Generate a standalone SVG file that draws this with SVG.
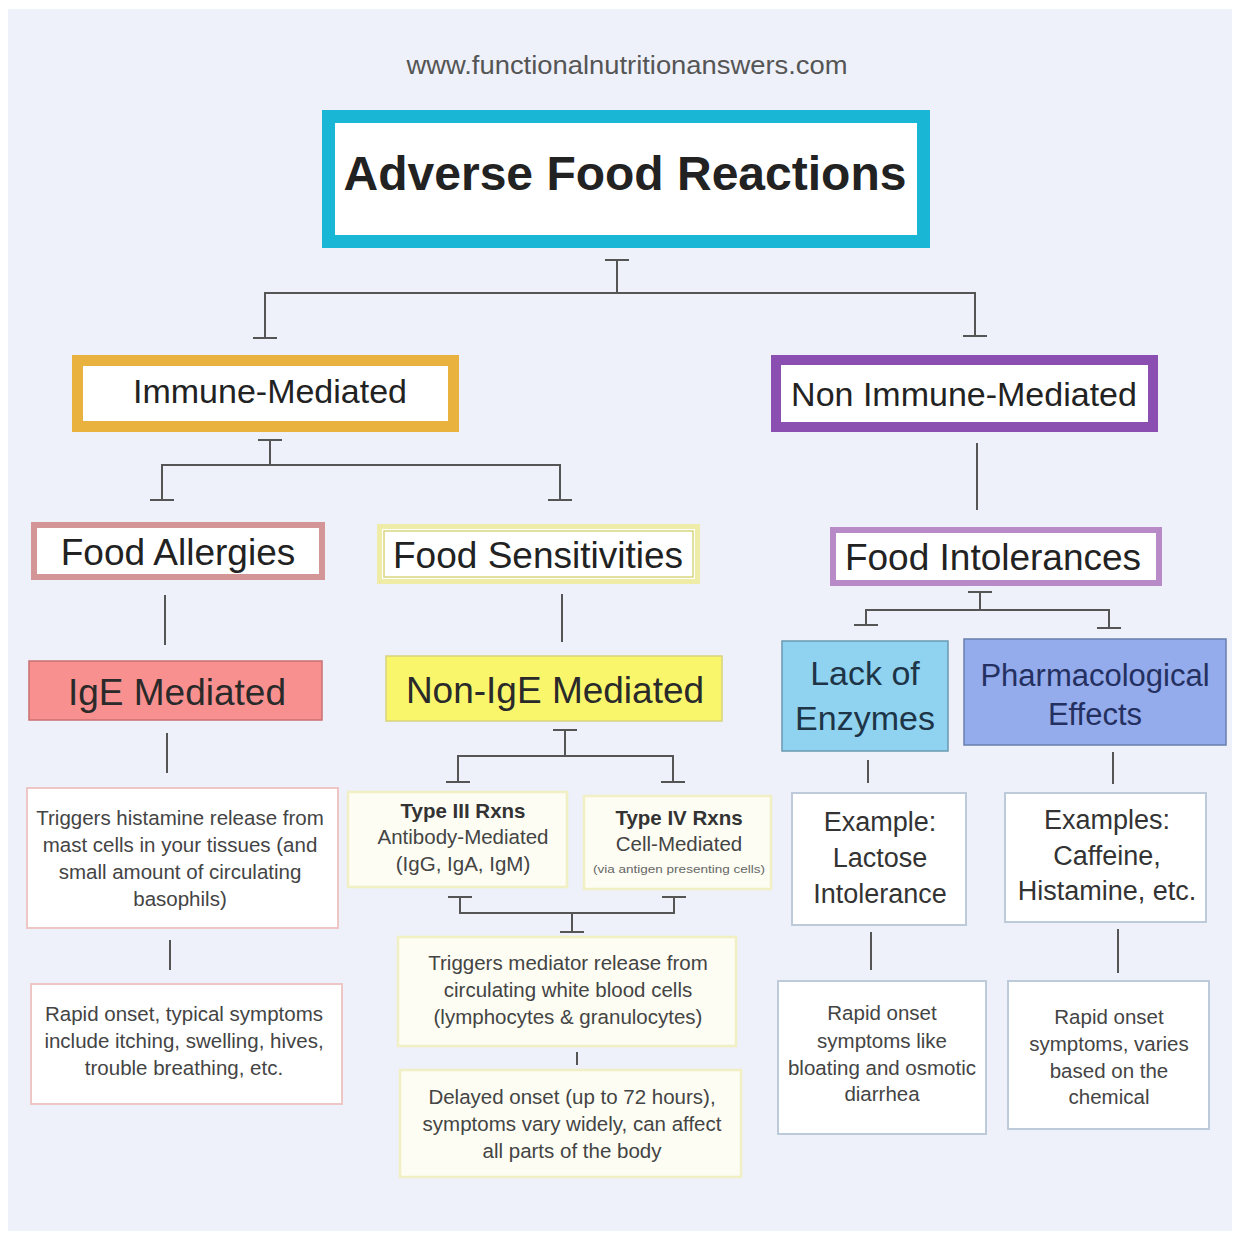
<svg xmlns="http://www.w3.org/2000/svg" width="1239" height="1238" viewBox="0 0 1239 1238">
<style>
text{font-family:"Liberation Sans",Arial,sans-serif;text-anchor:middle}
.big{fill:#222}
.sm{font-size:20.5px;fill:#444}
.ex{font-size:27px;fill:#333}
.conn{fill:none;stroke:#555;stroke-width:2}
.pbox{fill:#fff;stroke:#efc6c6;stroke-width:2}
.ybox{fill:#fdfdf3;stroke:#f1efc4;stroke-width:2.5}
.bbox{fill:#fff;stroke:#bccad9;stroke-width:2}
</style>
<defs>
<marker id="bar" markerUnits="userSpaceOnUse" markerWidth="4" markerHeight="26" refX="2" refY="13" orient="auto">
<path d="M2,1 V25" stroke="#555" stroke-width="2"/>
</marker>
</defs>
<rect x="0" y="0" width="1239" height="1238" fill="#fff"/>
<rect x="8" y="9" width="1224" height="1222" fill="#eef1f9"/>
<text x="627" y="74" style="font-size:25px;fill:#555" textLength="441" lengthAdjust="spacingAndGlyphs">www.functionalnutritionanswers.com</text>

<g id="connectors">
<path class="conn" d="M617,260 V293 H265 V338" marker-start="url(#bar)" marker-end="url(#bar)"/>
<path class="conn" d="M617,293 H975 V336" marker-end="url(#bar)"/>
<path class="conn" d="M270,440 V465 H162 V500" marker-start="url(#bar)" marker-end="url(#bar)"/>
<path class="conn" d="M270,465 H560 V500" marker-end="url(#bar)"/>
<path class="conn" d="M977,443 V510"/>
<path class="conn" d="M165,595 V645"/>
<path class="conn" d="M562,594 V642"/>
<path class="conn" d="M980,592 V610 H866 V625" marker-start="url(#bar)" marker-end="url(#bar)"/>
<path class="conn" d="M980,610 H1109 V628" marker-end="url(#bar)"/>
<path class="conn" d="M167,733 V773"/>
<path class="conn" d="M565,730 V756 H458 V782" marker-start="url(#bar)" marker-end="url(#bar)"/>
<path class="conn" d="M565,756 H673 V782" marker-end="url(#bar)"/>
<path class="conn" d="M868,760 V783"/>
<path class="conn" d="M1113,752 V784"/>
<path class="conn" d="M460,897 V913 H572 V932" marker-start="url(#bar)" marker-end="url(#bar)"/>
<path class="conn" d="M674,897 V913 H572" marker-start="url(#bar)"/>
<path class="conn" d="M577,1052 V1065"/>
<path class="conn" d="M170,940 V970"/>
<path class="conn" d="M871,932 V970"/>
<path class="conn" d="M1118,929 V973"/>
</g>

<g id="title">
<rect x="328.5" y="116.5" width="595" height="125" fill="#fff" stroke="#19b6d6" stroke-width="13"/>
<text class="big" x="625" y="190" style="font-size:48px;font-weight:bold">Adverse Food Reactions</text>
</g>
<g id="immune">
<rect x="77.5" y="360.5" width="376" height="66" fill="#fff" stroke="#e9b13e" stroke-width="11"/>
<text class="big" x="270" y="403" style="font-size:34px">Immune-Mediated</text>
</g>
<g id="nonimmune">
<rect x="776" y="360" width="377" height="67" fill="#fff" stroke="#8b4fb1" stroke-width="10"/>
<text class="big" x="964" y="406" style="font-size:34px">Non Immune-Mediated</text>
</g>
<g id="allergies">
<rect x="34" y="525" width="288" height="52" fill="#fff" stroke="#d39595" stroke-width="6"/>
<text class="big" x="178" y="565" style="font-size:37px">Food Allergies</text>
</g>
<g id="sensitivities">
<rect x="379.5" y="526.5" width="318" height="55" fill="#fff" stroke="#eeeca6" stroke-width="5"/>
<rect x="384" y="531" width="309" height="46" fill="none" stroke="#d9d67c" stroke-width="1.5"/>
<text class="big" x="538" y="568" style="font-size:37px">Food Sensitivities</text>
</g>
<g id="intolerances">
<rect x="833" y="530" width="326" height="53" fill="#fff" stroke="#b98ac8" stroke-width="6"/>
<text class="big" x="993" y="570" style="font-size:37px">Food Intolerances</text>
</g>
<g id="ige">
<rect x="29" y="661" width="293" height="59" fill="#f8908f" stroke="#c87070" stroke-width="1.5"/>
<text x="177" y="705" style="font-size:37px;fill:#2a2a2a">IgE Mediated</text>
</g>
<g id="nonige">
<rect x="386" y="656" width="336" height="65" fill="#f9f66c" stroke="#d6d37e" stroke-width="1.5"/>
<text x="555" y="703" style="font-size:37px;fill:#2a2a2a">Non-IgE Mediated</text>
</g>
<g id="lackenzymes">
<rect x="782" y="641" width="166" height="110" fill="#90d3f0" stroke="#6a98b0" stroke-width="1.5"/>
<text x="865" y="685" style="font-size:34px;fill:#1e3548">Lack of</text>
<text x="865" y="730" style="font-size:34px;fill:#1e3548">Enzymes</text>
</g>
<g id="pharm">
<rect x="964" y="639" width="262" height="106" fill="#94abec" stroke="#6a7fb0" stroke-width="1.5"/>
<text x="1095" y="686" style="font-size:31px;fill:#243060">Pharmacological</text>
<text x="1095" y="725" style="font-size:31px;fill:#243060">Effects</text>
</g>
<g id="histamine">
<rect class="pbox" x="27" y="788" width="311" height="140"/>
<text class="sm" x="180" y="825">Triggers histamine release from</text>
<text class="sm" x="180" y="852">mast cells in your tissues (and</text>
<text class="sm" x="180" y="879">small amount of circulating</text>
<text class="sm" x="180" y="906">basophils)</text>
</g>
<g id="rapidleft">
<rect class="pbox" x="31" y="984" width="311" height="120"/>
<text class="sm" x="184" y="1021">Rapid onset, typical symptoms</text>
<text class="sm" x="184" y="1048">include itching, swelling, hives,</text>
<text class="sm" x="184" y="1075">trouble breathing, etc.</text>
</g>
<g id="type3">
<rect class="ybox" x="348" y="792" width="219" height="95"/>
<text class="sm" x="463" y="818" style="font-weight:bold;fill:#333">Type III Rxns</text>
<text class="sm" x="463" y="844">Antibody-Mediated</text>
<text class="sm" x="463" y="871">(IgG, IgA, IgM)</text>
</g>
<g id="type4">
<rect class="ybox" x="584" y="796" width="187" height="93"/>
<text class="sm" x="679" y="825" style="font-weight:bold;fill:#333">Type IV Rxns</text>
<text class="sm" x="679" y="851">Cell-Mediated</text>
<text x="679" y="873" style="font-size:10px;fill:#666" textLength="172" lengthAdjust="spacingAndGlyphs">(via antigen presenting cells)</text>
</g>
<g id="mediator">
<rect class="ybox" x="398" y="937" width="338" height="109"/>
<text class="sm" x="568" y="970">Triggers mediator release from</text>
<text class="sm" x="568" y="997">circulating white blood cells</text>
<text class="sm" x="568" y="1024">(lymphocytes &amp; granulocytes)</text>
</g>
<g id="delayed">
<rect class="ybox" x="400" y="1070" width="341" height="107"/>
<text class="sm" x="572" y="1104">Delayed onset (up to 72 hours),</text>
<text class="sm" x="572" y="1131">symptoms vary widely, can affect</text>
<text class="sm" x="572" y="1158">all parts of the body</text>
</g>
<g id="lactose">
<rect class="bbox" x="792" y="793" width="174" height="132"/>
<text class="ex" x="880" y="831">Example:</text>
<text class="ex" x="880" y="867">Lactose</text>
<text class="ex" x="880" y="903">Intolerance</text>
</g>
<g id="caffeine">
<rect class="bbox" x="1005" y="793" width="201" height="129"/>
<text class="ex" x="1107" y="829">Examples:</text>
<text class="ex" x="1107" y="865">Caffeine,</text>
<text class="ex" x="1107" y="900">Histamine, etc.</text>
</g>
<g id="rapidlactose">
<rect class="bbox" x="778" y="981" width="208" height="153"/>
<text class="sm" x="882" y="1020">Rapid onset</text>
<text class="sm" x="882" y="1048">symptoms like</text>
<text class="sm" x="882" y="1075">bloating and osmotic</text>
<text class="sm" x="882" y="1101">diarrhea</text>
</g>
<g id="rapidchem">
<rect class="bbox" x="1008" y="981" width="201" height="148"/>
<text class="sm" x="1109" y="1024">Rapid onset</text>
<text class="sm" x="1109" y="1051">symptoms, varies</text>
<text class="sm" x="1109" y="1078">based on the</text>
<text class="sm" x="1109" y="1104">chemical</text>
</g>
</svg>
